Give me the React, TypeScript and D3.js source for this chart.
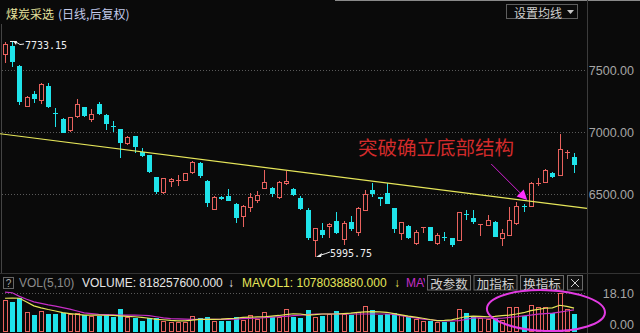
import React from 'react';
import * as d3 from 'd3';

const W = 640;
const H = 333;

const opens = [7620, 7693, 7532, 7205, 7304, 7253, 7371, 7155, 7106, 7009, 7119, 7200, 7098, 7226, 7138, 7052, 7025, 6902, 6969, 6843, 6816, 6637, 6508, 6601, 6612, 6609, 6669, 6749, 6609, 6374, 6478, 6486, 6422, 6320, 6392, 6449, 6540, 6553, 6468, 6580, 6543, 6468, 6374, 6124, 6213, 6235, 6288, 6132, 6280, 6186, 6368, 6535, 6476, 6508, 6387, 6178, 6245, 6100, 6225, 6235, 6098, 6154, 6146, 6127, 6344, 6307, 6251, 6247, 6280, 6138, 6167, 6259, 6408, 6400, 6580, 6588, 6669, 6650, 6830, 6803];
const highs = [7722, 7733.15, 7540, 7293, 7333, 7393, 7398, 7194, 7114, 7124, 7264, 7205, 7184, 7243, 7142, 7090, 7029, 6969, 6973, 6870, 6820, 6642, 6631, 6634, 6655, 6673, 6768, 6757, 6615, 6486, 6486, 6540, 6426, 6410, 6508, 6527, 6696, 6557, 6603, 6690, 6553, 6486, 6387, 6229, 6267, 6267, 6360, 6288, 6325, 6395, 6535, 6588, 6478, 6593, 6390, 6281, 6249, 6213, 6239, 6237, 6186, 6199, 6148, 6358, 6374, 6374, 6263, 6333, 6283, 6218, 6395, 6441, 6422, 6597, 6634, 6701, 6682, 6985, 6856, 6830];
const lows = [7556, 7527, 7218, 7200, 7232, 7224, 7195, 7044, 6991, 7004, 7111, 7124, 7084, 7138, 7017, 7004, 6790, 6897, 6835, 6802, 6669, 6502, 6505, 6561, 6567, 6607, 6663, 6634, 6395, 6370, 6454, 6446, 6272, 6239, 6360, 6428, 6539, 6476, 6465, 6576, 6490, 6374, 6132, 5995.75, 6146, 6146, 6182, 6092, 6207, 6165, 6366, 6481, 6406, 6418, 6186, 6132, 6142, 6092, 6186, 6124, 6096, 6124, 6074, 6124, 6293, 6261, 6165, 6245, 6154, 6084, 6165, 6255, 6360, 6398, 6567, 6587, 6629, 6647, 6782, 6674];
const closes = [7712, 7567, 7245, 7285, 7264, 7387, 7200, 7148, 6996, 7119, 7224, 7132, 7144, 7146, 7066, 7045, 6910, 6963, 6883, 6808, 6682, 6516, 6629, 6621, 6618, 6669, 6757, 6650, 6428, 6481, 6460, 6449, 6307, 6406, 6481, 6494, 6597, 6502, 6597, 6607, 6494, 6384, 6146, 6226, 6173, 6261, 6186, 6272, 6218, 6387, 6502, 6502, 6465, 6422, 6221, 6277, 6146, 6199, 6235, 6127, 6173, 6149, 6092, 6355, 6338, 6275, 6261, 6293, 6159, 6186, 6293, 6406, 6395, 6593, 6593, 6696, 6642, 6862, 6843, 6736];

// volume in units of 1e8
const volumes = [14.6, 13.8, 15.4, 9.1, 7.5, 9.4, 8.0, 8.0, 8.3, 8.0, 8.6, 7.5, 7.1, 7.1, 8.0, 6.7, 10.3, 6.7, 6.3, 4.8, 6.0, 6.3, 4.8, 4.4, 4.1, 4.4, 7.1, 6.0, 6.4, 4.8, 4.8, 4.8, 6.4, 5.2, 7.5, 5.5, 9.1, 6.7, 6.7, 10.2, 6.7, 6.3, 9.9, 6.7, 7.1, 7.9, 9.4, 7.9, 7.5, 8.8, 11.8, 9.9, 7.5, 7.9, 8.3, 7.5, 6.7, 5.5, 4.8, 4.7, 4.4, 4.4, 4.4, 10.2, 8.3, 6.4, 6.0, 5.5, 6.0, 5.2, 11.1, 11.1, 7.1, 12.2, 11.1, 11.1, 8.6, 18.1, 10.2, 8.182576];
const mavol1 = [15.4, 15.5, 15.4, 13.6, 11.8, 10.9, 10.1, 9.4, 8.6, 8.2, 7.8, 7.5, 7.5, 7.5, 7.4, 7.3, 7.1, 6.9, 6.7, 6.4, 6.0, 5.5, 5.3, 5.0, 4.8, 4.8, 5.1, 5.5, 5.5, 5.5, 5.6, 5.8, 6.0, 6.4, 6.5, 6.6, 6.7, 7.0, 7.3, 7.7, 8.1, 8.0, 7.5, 7.7, 8.0, 8.0, 8.0, 8.2, 8.4, 8.8, 9.0, 9.1, 9.0, 8.8, 8.2, 7.6, 7.0, 6.5, 6.0, 5.4, 4.9, 5.0, 5.2, 6.0, 6.8, 7.0, 6.9, 6.7, 6.9, 7.2, 7.5, 8.0, 8.6, 9.6, 10.2, 10.7, 10.9, 12.1, 11.6, 10.7803888];
const mavol2 = [18.3, 18.0, 16.3, 14.9, 13.7, 13.0, 12.3, 11.7, 11.0, 10.3, 9.4, 8.5, 8.2, 7.8, 7.7, 7.6, 7.5, 7.5, 7.5, 7.4, 7.2, 6.7, 6.2, 5.8, 5.7, 5.6, 5.5, 5.5, 5.5, 5.5, 5.5, 5.5, 5.6, 5.8, 5.9, 6.0, 6.3, 6.5, 6.7, 6.9, 7.2, 7.5, 7.7, 7.9, 8.0, 8.0, 8.0, 8.0, 8.0, 8.0, 8.0, 8.0, 8.0, 8.0, 7.8, 7.2, 6.6, 6.2, 5.6, 5.3, 4.9, 4.8, 4.8, 4.9, 5.4, 6.2, 6.2, 6.0, 5.9, 6.0, 6.4, 6.7, 7.1, 7.5, 7.9, 8.2, 8.4, 8.9, 9.4, 9.9];

const priceTicks = [6500, 7000, 7500];
const volTicks = [18.1, 0];
const trendIdx = [-0.7, 80.8];
const trendPrice = [6987, 6387];

const titleName = '煤炭采选';
const titlePeriod = '(日线,后复权)';
const maButton = '设置均线';
const annotationText = '突破确立底部结构';
const annotationPos = { idx: 49.0, price: 6881 };
const arrowFrom = { idx: 67.5, price: 6744 };
const arrowTo = { idx: 72.5, price: 6454 };
const ellipseCenter = { idx: 75.1, vol: 9.6 };
const ellipseHalfIdx = 8.2;
const ellipseHalfVol = 9.6;
const volButtons = ['改参数', '加指标', '换指标'];

const RED = '#e8625e';
const CYAN = '#1fe3ea';
const BG = '#0a0a0a';
const LATIN = "'Liberation Sans', Arial, sans-serif";
const CJK = "'Noto Sans CJK SC', 'Noto Sans', sans-serif";
const MONO = "'DejaVu Sans Mono', monospace";

export default function App() {
  const x = d3.scaleLinear().domain([-0.7, 80.8]).range([0, 587]);
  const y = d3.scaleLinear().domain([6500, 7500]).range([194.3, 70]);
  const yv = d3.scaleLinear().domain([0, 18.1]).range([331, 292.5]);
  const idx = d3.range(opens.length);

  const maLine = (arr: number[]) =>
    d3.line<number>().x((_, i) => x(i)).y((d) => yv(d))(arr) || '';

  const trendPath = d3.line<number>().x((d) => x(d)).y((_, i) => y(trendPrice[i]))(trendIdx) || '';

  const hiI = highs.indexOf(d3.max(highs) as number);
  const loI = lows.indexOf(d3.min(lows) as number);
  const hx = Math.round(x(hiI));
  const hy = y(highs[hiI]);
  const lx = Math.round(x(loI));
  const ly = y(lows[loI]);

  const ax1 = x(arrowFrom.idx), ay1 = y(arrowFrom.price);
  const ax2 = x(arrowTo.idx), ay2 = y(arrowTo.price);
  const len = Math.hypot(ax2 - ax1, ay2 - ay1);
  const ux = (ax2 - ax1) / len, uy = (ay2 - ay1) / len;
  const bx = ax2 - ux * 10, by = ay2 - uy * 10;
  const head = `${ax2},${ay2} ${bx - uy * 5},${by + ux * 5} ${bx + uy * 5},${by - ux * 5}`;

  const ecx = x(ellipseCenter.idx);
  const ecy = yv(ellipseCenter.vol);
  const erx = x(ellipseCenter.idx + ellipseHalfIdx) - ecx;
  const ery = yv(0) - yv(ellipseHalfVol);

  const last = opens.length - 1;
  const volText = 'VOLUME: ' + (volumes[last] * 1e8).toFixed(3);
  const ma1Text = 'MAVOL1: ' + Math.round(mavol1[last] * 1e8).toFixed(3);

  return (
    <svg width={W} height={H} style={{ position: 'absolute', left: 0, top: 0, background: BG }}>
      <defs>
        <clipPath id="mavclip">
          <rect x={400} y={270} width={25} height={25} />
        </clipPath>
      </defs>
      <rect x={0} y={0} width={W} height={H} fill={BG} />
      {/* header */}
      <line x1={335} x2={W} y1={0.5} y2={0.5} stroke="#8a8a8a" />
      <text x={6} y={13} fontFamily={CJK} fontSize={12} fill="#e6e29e" dominantBaseline="central">{titleName}</text>
      <text x={58} y={13} fontFamily={CJK} fontSize={12} fill="#c4cbea" dominantBaseline="central">{titlePeriod}</text>
      <rect x={506.5} y={4.5} width={71} height={14} fill="none" stroke="#5e5e5e" />
      <text x={514} y={12} fontFamily={CJK} fontSize={12} fill="#d0d0d0" dominantBaseline="central">{maButton}</text>
      <path d="M567,10 L574,10 L570.5,14 Z" fill="#c8c8c8" />

      {/* frame lines */}
      <line x1={587.5} x2={587.5} y1={0} y2={H} stroke="#3c3c3c" />
      <line x1={1.5} x2={1.5} y1={24} y2={273} stroke="#444" />
      <line x1={0} x2={W} y1={273.5} y2={273.5} stroke="#333" />

      {/* price grid */}
      {priceTicks.map((t) => (
        <g key={t}>
          <line x1={2} x2={587} y1={Math.round(y(t)) + 0.5} y2={Math.round(y(t)) + 0.5} stroke="#5a5a5a" strokeDasharray="1 2" />
          <text x={634} y={y(t) + 1} textAnchor="end" fontFamily={LATIN} fontSize={12.5} fill="#a6a6a6" dominantBaseline="central">{t.toFixed(2)}</text>
        </g>
      ))}

      {/* candles */}
      {idx.map((i) => {
        const cx = Math.round(x(i));
        const isUp = closes[i] >= opens[i];
        const top = Math.round(y(Math.max(opens[i], closes[i])));
        const bot = Math.round(y(Math.min(opens[i], closes[i])));
        const hi = Math.round(y(highs[i]));
        const lo = Math.round(y(lows[i]));
        const col = isUp ? RED : CYAN;
        const h = Math.max(1, bot - top);
        return (
          <g key={i}>
            {isUp ? (
              <>
                {hi < top && <line x1={cx + 0.5} x2={cx + 0.5} y1={hi} y2={top} stroke={col} />}
                {lo > bot && <line x1={cx + 0.5} x2={cx + 0.5} y1={bot} y2={lo} stroke={col} />}
                {h > 2 ? (
                  <rect x={cx - 1.5} y={top + 0.5} width={4} height={h - 1} fill="none" stroke={col} />
                ) : (
                  <rect x={cx - 2} y={top} width={5} height={Math.max(1, h)} fill={col} />
                )}
              </>
            ) : (
              <>
                <line x1={cx + 0.5} x2={cx + 0.5} y1={hi} y2={lo} stroke={col} />
                <rect x={cx - 2} y={top} width={5} height={h} fill={col} />
              </>
            )}
          </g>
        );
      })}

      {/* trend line */}
      <path d={trendPath} stroke="#e6e65a" strokeWidth={1.2} fill="none" />

      {/* extremes */}
      <path d={`M${hx + 1},${hy} L${hx + 4},${hy + 4} L${hx + 5},${hy} Z`} fill="#eeeeee" />
      <line x1={hx - 2} x2={hx + 4} y1={hy + 0.5} y2={hy + 0.5} stroke="#eeeeee" />
      <path d={`M${hx + 4},${hy + 1} Q${hx + 8},${hy + 5} ${hx + 12},${hy + 3}`} stroke="#eeeeee" fill="none" />
      <text x={hx + 13} y={hy + 8} fontFamily={MONO} fontSize={10} fill="#eeeeee">{highs[hiI].toFixed(2)}</text>
      <path d={`M${lx + 1},${ly} L${lx + 7},${ly - 4} L${lx + 6},${ly} Z`} fill="#eeeeee" />
      <path d={`M${lx + 6},${ly - 2} Q${lx + 10},${ly - 3} ${lx + 15},${ly - 5}`} stroke="#eeeeee" fill="none" />
      <text x={lx + 15} y={ly} fontFamily={MONO} fontSize={10} fill="#eeeeee">{lows[loI].toFixed(2)}</text>

      {/* annotation */}
      <text x={x(annotationPos.idx)} y={y(annotationPos.price)} fontFamily={CJK} fontSize={19.5} fill="#d22b2b" dominantBaseline="central">{annotationText}</text>
      <line x1={ax1} y1={ay1} x2={bx} y2={by} stroke="#d020d0" strokeWidth={1} />
      <polygon points={head} fill="#ff30ff" />

      {/* volume header */}
      <rect x={3.5} y={277.5} width={10} height={11} fill="none" stroke="#666" />
      <text x={8.5} y={283} textAnchor="middle" fontFamily={LATIN} fontSize={10} fill="#aaa" dominantBaseline="central">?</text>
      <text x={19} y={282.5} fontFamily={LATIN} fontSize={12} fill="#8c8c8c" dominantBaseline="central">VOL(5,10)</text>
      <text x={82} y={282.5} fontFamily={LATIN} fontSize={12} fill="#e6e6e6" dominantBaseline="central">{volText}</text>
      <text x={228} y={282.5} fontFamily={LATIN} fontSize={12} fill="#e6e6e6" dominantBaseline="central">↓</text>
      <text x={242} y={282.5} fontFamily={LATIN} fontSize={12} fill="#e6e65a" dominantBaseline="central">{ma1Text}</text>
      <text x={394} y={282.5} fontFamily={LATIN} fontSize={12} fill="#e6e65a" dominantBaseline="central">↓</text>
      <text x={406} y={282.5} fontFamily={LATIN} fontSize={12} fill="#c62ec6" dominantBaseline="central" clipPath="url(#mavclip)">MAV</text>
      {volButtons.map((b, k) => (
        <g key={b}>
          <rect x={427.5 + k * 46.5} y={275.5} width={43} height={14.5} fill="#101010" stroke="#6a6a6a" />
          <text x={449 + k * 46.5} y={283} textAnchor="middle" fontFamily={CJK} fontSize={12.5} fill="#cfcfcf" dominantBaseline="central">{b}</text>
        </g>
      ))}
      <rect x={567.5} y={275.5} width={15} height={14.5} fill="#101010" stroke="#6a6a6a" />
      <path d="M571,279 L579,287 M579,279 L571,287" stroke="#cfcfcf" />

      {/* volume grid + axis */}
      <line x1={2} x2={587} y1={Math.round(yv(volTicks[0])) + 0.5} y2={Math.round(yv(volTicks[0])) + 0.5} stroke="#5a5a5a" strokeDasharray="1 2" />
      <text x={634} y={293.5} textAnchor="end" fontFamily={LATIN} fontSize={12.5} fill="#a6a6a6" dominantBaseline="central">{volTicks[0].toFixed(2)}</text>
      <text x={634} y={325} textAnchor="end" fontFamily={LATIN} fontSize={12.5} fill="#a6a6a6" dominantBaseline="central">{volTicks[1].toFixed(2)}</text>

      {/* volume bars */}
      {idx.map((i) => {
        const cx = Math.round(x(i));
        const isUp = closes[i] >= opens[i];
        const top = Math.round(yv(volumes[i]));
        const bot = Math.round(yv(0)) + 1;
        return isUp ? (
          <rect key={i} x={cx - 1.5} y={top + 0.5} width={4} height={bot - top - 1} fill="none" stroke={RED} />
        ) : (
          <rect key={i} x={cx - 2} y={top} width={5} height={bot - top} fill={CYAN} />
        );
      })}
      <path d={maLine(mavol2)} stroke="#c62ec6" strokeWidth={1.2} fill="none" />
      <path d={maLine(mavol1)} stroke="#e6e65a" strokeWidth={1.2} fill="none" />

      {/* highlight ellipse */}
      <ellipse cx={ecx} cy={ecy} rx={erx} ry={ery} fill="none" stroke="#e23be2" strokeWidth={2} transform={`rotate(2 ${ecx} ${ecy})`} />
    </svg>
  );
}
